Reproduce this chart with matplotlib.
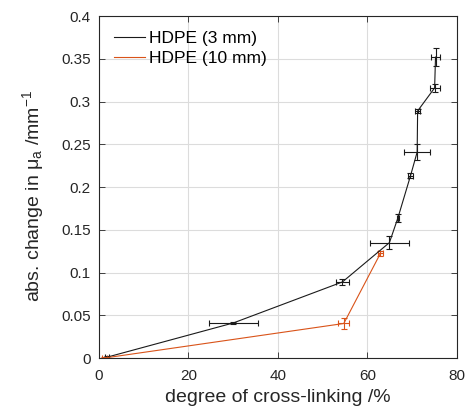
import numpy as np
import matplotlib
matplotlib.use('Agg')
import matplotlib.pyplot as plt
from matplotlib.ticker import FuncFormatter
from matplotlib.lines import Line2D

plt.rcParams['font.family'] = ['Liberation Sans', 'DejaVu Sans']
plt.rcParams['mathtext.default'] = 'regular'

# HDPE (3 mm)
x3 = [1.8, 30.0, 54.4, 64.9, 66.8, 69.6, 71.1, 71.2, 75.0, 75.2]
y3 = [0.001, 0.041, 0.089, 0.135, 0.164, 0.213, 0.241, 0.289, 0.316, 0.352]
x3err = [0.4, 5.5, 1.4, 4.4, 0.3, 0.5, 2.9, 0.6, 1.1, 1.1]
y3err = [0.001, 0.001, 0.004, 0.0074, 0.0047, 0.003, 0.009, 0.002, 0.0047, 0.0106]

# HDPE (10 mm)
x10 = [1.2, 54.7, 62.9]
y10 = [0.0, 0.0404, 0.1225]
x10err = [0.5, 1.2, 0.6]
y10err = [0.001, 0.006, 0.003]

black = '#1a1a1a'
orange = '#d95319'

fig = plt.figure(figsize=(4.68, 4.12), dpi=100)
ax = fig.add_axes([0.2115, 0.131, 0.765, 0.830])

ax.errorbar(x3, y3, xerr=x3err, yerr=y3err, color=black, lw=0.8,
            elinewidth=0.8, capsize=2.5, capthick=0.8)
ax.errorbar(x10, y10, xerr=x10err, yerr=y10err, color=orange, lw=0.8,
            elinewidth=0.8, capsize=2.5, capthick=0.8)

ax.set_xlim(0, 80)
ax.set_ylim(0, 0.4)
ax.set_xticks([0, 20, 40, 60, 80])
ax.set_yticks(np.arange(0, 0.41, 0.05))
ax.yaxis.set_major_formatter(FuncFormatter(lambda v, p: '%g' % round(v, 2)))
ax.grid(True, color='#dcdcdc', lw=0.8)
ax.set_axisbelow(True)
ax.tick_params(direction='in', top=True, right=True, labelsize=11,
               colors='#262626', length=4, width=0.6)
ax.tick_params(axis='x', pad=8)
ax.tick_params(axis='y', pad=6)
for s in ax.spines.values():
    s.set_color('#262626')
    s.set_linewidth(0.8)

ax.set_xlabel('degree of cross-linking /%', fontsize=14, color='#262626',
              labelpad=4)
ax.set_ylabel('abs. change in μ$_a$ /mm$^{-1}$', fontsize=14, color='#262626')
ax.yaxis.set_label_coords(-0.148, 0.475)

handles = [Line2D([], [], color=black, lw=0.8),
           Line2D([], [], color=orange, lw=0.8)]
ax.legend(handles, ['HDPE (3 mm)', 'HDPE (10 mm)'], loc='upper left',
          frameon=False, fontsize=12.5, handlelength=1.8, handletextpad=0.2,
          borderaxespad=0.45, labelspacing=0.25, borderpad=0.42)

fig.savefig('out.png', dpi=100)
